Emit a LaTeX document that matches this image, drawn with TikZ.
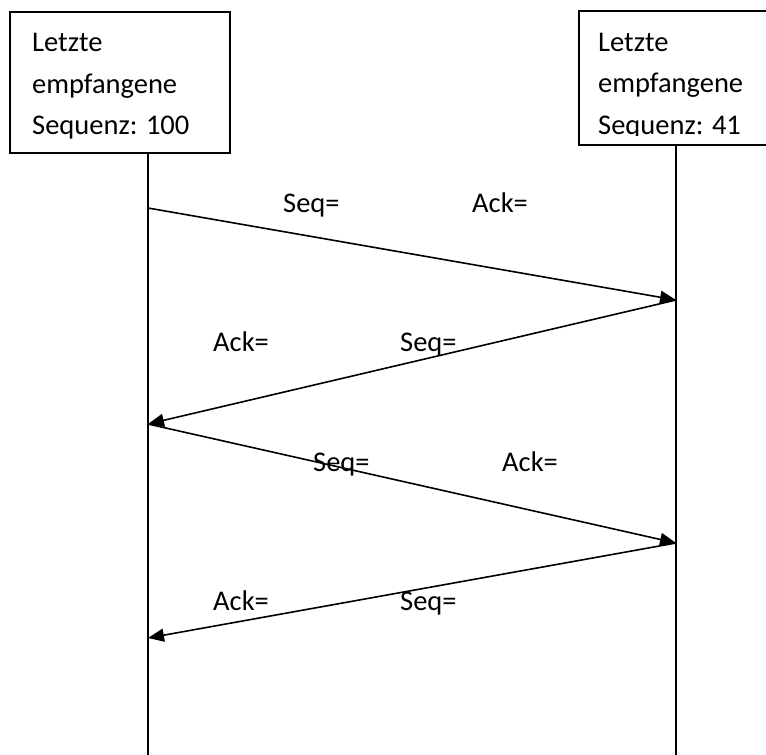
\documentclass[tikz,border=0pt]{standalone}
\usepackage{fontspec}
\setmainfont{Carlito}
\usetikzlibrary{arrows.meta}
\begin{document}
\begin{tikzpicture}[x=1pt,y=-1pt,
  lbl/.style={anchor=base west,inner sep=0pt,font=\fontsize{28.5}{41}\selectfont},
  boxtxt/.style={anchor=north west,inner sep=0pt,align=left,font=\fontsize{28.5}{41.5}\selectfont},
  frame/.style={draw,line width=1.6pt,fill=white,anchor=north west,inner sep=0pt},
  life/.style={line width=1.6pt},
  msg/.style={line width=1.6pt,-{Triangle[length=16pt,width=13pt]}}]
\useasboundingbox (0,0) rectangle (766,755);
\fill[white] (0,0) rectangle (766,755);
% lifeline end points
\coordinate (lb) at (148,755);
\coordinate (rb) at (676,755);
\coordinate (l1) at (148,208);
\coordinate (r1) at (676,300);
\coordinate (l2) at (148,424);
\coordinate (r2) at (676,543);
\coordinate (l3) at (148,638);
% boxes
\node[frame,minimum width=220pt,minimum height=141pt] (A) at (9,11) {};
\node[frame,minimum width=230pt,minimum height=134pt] (B) at (578,10) {};
\node[boxtxt] (At) at (32,33.5) {Letzte\\empfangene\\Sequenz: 100};
\begin{scope}
\clip (578,10) rectangle (800,135);
\node[boxtxt] (Bt) at (598,33) {Letzte\\empfangene\\Sequenz: 41};
\end{scope}
% lifelines
\draw[life] (A.south -| l1) -- (lb);
\draw[life] (B.south -| r1) -- (rb);
% messages
\draw[msg] (l1) -- (r1);
\draw[msg] (r1) -- (l2);
\draw[msg] (l2) -- (r2);
\draw[msg] (r2) -- (l3);
% labels
\node[lbl] (s1) at (283,212) {Seq=};
\node[lbl] (a1) at (472,212) {Ack=};
\node[lbl] (a2) at (213,351) {Ack=};
\node[lbl] (s2) at (400,351) {Seq=};
\node[lbl] (s3) at (313,471) {Seq=};
\node[lbl] (a3) at (502,471) {Ack=};
\node[lbl] (a4) at (213,610) {Ack=};
\node[lbl] (s4) at (400,610) {Seq=};
\end{tikzpicture}
\end{document}
